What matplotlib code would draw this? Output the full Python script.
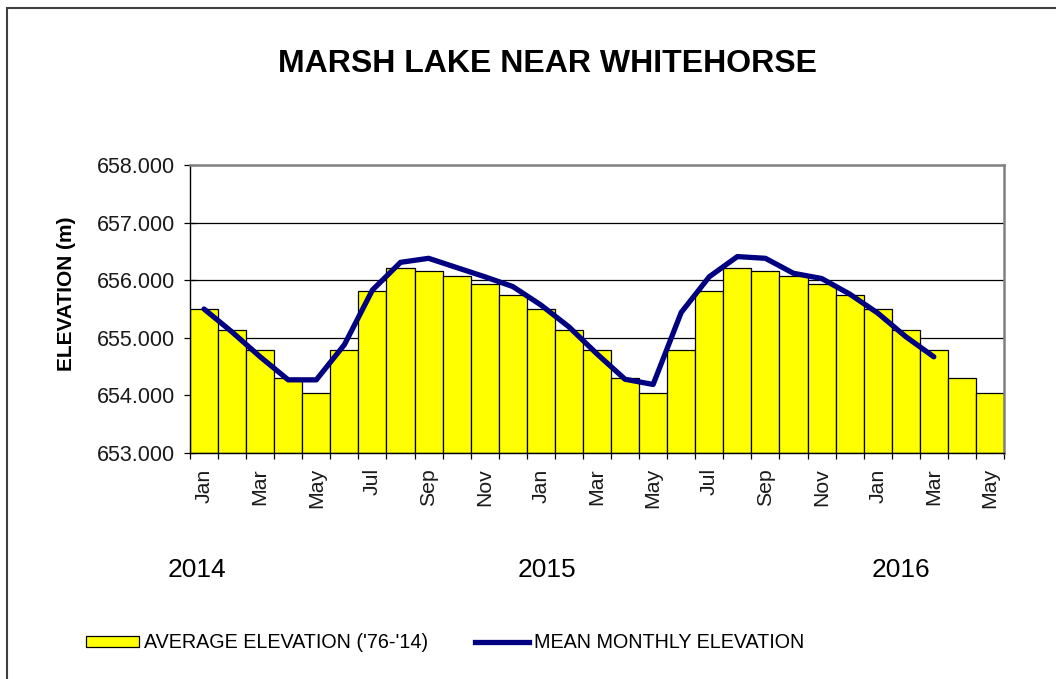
import numpy as np
import matplotlib; matplotlib.use("Agg"); import matplotlib.pyplot as plt
from matplotlib.patches import Patch, Rectangle
from matplotlib.lines import Line2D

plt.rcParams['font.family'] = ['Liberation Sans', 'DejaVu Sans']

# monthly values Jan 2014 .. May 2016
months = ["Jan","Feb","Mar","Apr","May","Jun","Jul","Aug","Sep","Oct","Nov","Dec"]*2 + \
         ["Jan","Feb","Mar","Apr","May"]
avg_elev = [655.50, 655.13, 654.78, 654.31, 654.05, 654.78, 655.82, 656.21, 656.16, 656.07, 655.93, 655.75,
            655.50, 655.13, 654.78, 654.31, 654.05, 654.78, 655.82, 656.21, 656.16, 656.07, 655.93, 655.75,
            655.50, 655.13, 654.78, 654.31, 654.05]
mean_elev = [655.50, 655.10, 654.67, 654.27, 654.27, 654.88, 655.83, 656.31, 656.38, 656.22, 656.06, 655.89,
             655.57, 655.19, 654.72, 654.28, 654.19, 655.44, 656.06, 656.41, 656.38, 656.12, 656.03, 655.76,
             655.43, 655.02, 654.67]
years = ["2014", "2015", "2016"]
y_ticks = [653, 654, 655, 656, 657, 658]

W, H = 1056, 679
fig = plt.figure(figsize=(W/100, H/100), dpi=100)
# outer chart frame
fig.patches.append(Rectangle((7/W, -0.1), 1.2, (H-8)/H + 0.1, transform=fig.transFigure,
                             fill=False, edgecolor="#404040", lw=1.5))
ax = fig.add_axes([190/W, (H-453)/H, (1004-190)/W, (453-165)/H])

x = np.arange(len(avg_elev))
ax.bar(x, np.array(avg_elev) - 653, bottom=653, width=1.0, color="#FFFF00",
       edgecolor="black", lw=0.9, zorder=2)
ax.plot(np.arange(len(mean_elev)), mean_elev, color="#000080", lw=3.8,
        solid_capstyle="round", zorder=3)

ax.set_xlim(-0.5, len(avg_elev) - 0.5)
ax.set_ylim(653, 658)
ax.set_yticks(y_ticks)
ax.set_yticklabels([f"{v:.3f}" for v in y_ticks], fontsize=15.5, color="#1a1a1a")
for v in y_ticks[1:-1]:
    ax.axhline(v, color="black", lw=0.9, zorder=1)

ax.set_xticks(x[::2])
ax.set_xticklabels(months[::2], rotation=90, fontsize=15.3, color="#1a1a1a")
ax.set_xticks(np.arange(len(avg_elev) + 1) - 0.5, minor=True)
ax.tick_params(axis="x", which="major", length=0, pad=11)
ax.tick_params(axis="x", which="minor", length=4.5, width=0.9, direction="out")
ax.tick_params(axis="y", length=9, width=0.9, direction="inout", pad=6)

for s in ["top", "right"]:
    ax.spines[s].set_color("#808080"); ax.spines[s].set_linewidth(1.8)
for s in ["left", "bottom"]:
    ax.spines[s].set_color("black"); ax.spines[s].set_linewidth(1.0)

fig.text(67/W, 1 - 294/H, "ELEVATION (m)", rotation=90, ha="center", va="center",
         fontsize=15, fontweight="bold")
fig.text(548/W, 1 - 64/H, "MARSH LAKE NEAR WHITEHORSE", ha="center", va="center",
         fontsize=23, fontweight="bold")
for xp, yr in zip([197, 547, 901], years):
    fig.text(xp/W, 1 - 570/H, yr, ha="center", va="center", fontsize=19)

handles = [Patch(facecolor="#FFFF00", edgecolor="black", lw=0.9),
           Line2D([0], [0], color="#000080", lw=3.8)]
fig.legend(handles, ["AVERAGE ELEVATION ('76-'14)", "MEAN MONTHLY ELEVATION"],
           loc="center left", bbox_to_anchor=(68/W, 1 - 643/H), ncol=2, frameon=False,
           fontsize=14.2, handlelength=2.7, handleheight=0.55, handletextpad=0.25,
           columnspacing=2.4)

fig.savefig("out.png", dpi=100)
